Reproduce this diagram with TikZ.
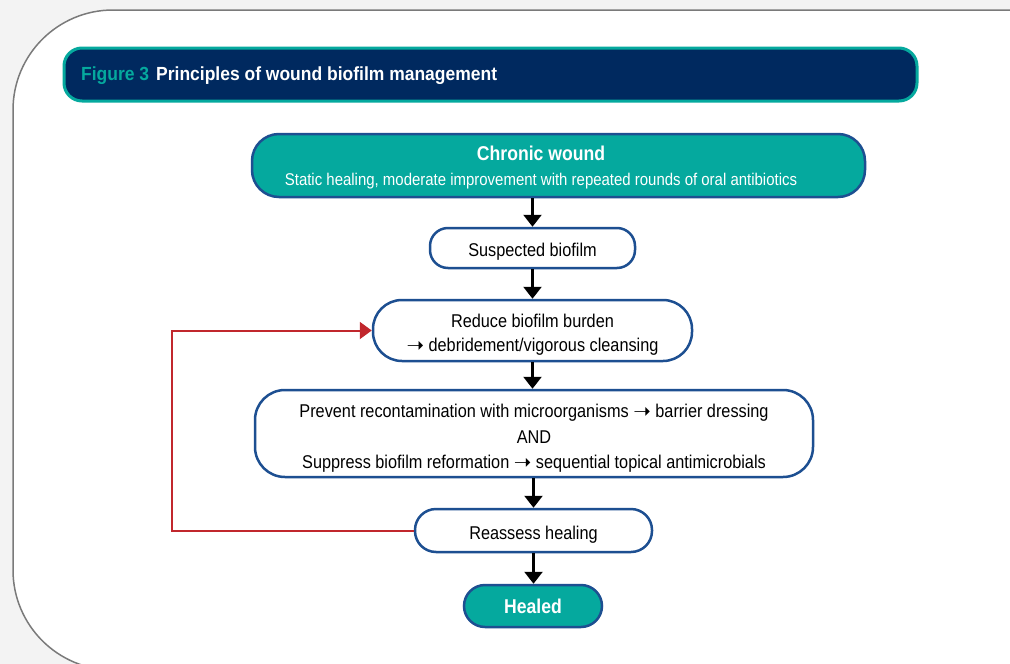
\documentclass[tikz,border=0pt]{standalone}
\usepackage{fontspec}
\setmainfont{Liberation Sans}
\newfontfamily\cf[FakeStretch=0.88]{Liberation Sans}
\newfontfamily\tf[FakeStretch=0.92]{Liberation Sans}
\newfontfamily\arrowfont{DejaVu Sans}
\newcommand{\rarr}{\raisebox{-0.5pt}{\arrowfont\fontsize{21}{21}\selectfont ➝}}
\newcommand{\textlines}[2][9pt]{\raisebox{0pt}[\dimexpr\height+#1\relax][\depth]{\begin{tabular}{@{}c@{}}#2\end{tabular}}}
\usetikzlibrary{arrows.meta}
\definecolor{bgray}{HTML}{F3F3F3}
\definecolor{pgray}{HTML}{7A7A7A}
\definecolor{navy}{HTML}{00295F}
\definecolor{teal}{HTML}{05A99E}
\definecolor{nblue}{HTML}{1D4F91}
\definecolor{fred}{HTML}{C1272D}
\tikzset{
  box/.style={draw=nblue, line width=2.5pt, fill=white, align=center, inner sep=0pt,
    font=\cf\fontsize{18.5}{25.5}\selectfont},
  lowtext/.style={execute at begin node={\rule{0pt}{21pt}}},
  tealbox/.style={box, fill=teal, text=white},
  flow/.style={line width=2.5pt, -{Triangle[width=18pt,length=12pt]}},
  back/.style={line width=2pt, draw=fred, -{Triangle[width=17pt,length=12pt]}, fred},
}
\begin{document}
\begin{tikzpicture}[x=1pt,y=-1pt]
\useasboundingbox (0,0) rectangle (1010,664);
\clip (0,0) rectangle (1010,664);
\fill[bgray] (0,0) rectangle (1010,664);
\draw[pgray, line width=1.5pt, fill=white, rounded corners=100pt] (13,10) rectangle (1200,670);
% title bar
\node[draw=teal, line width=3pt, fill=navy, rounded corners=18pt, minimum width=853pt, minimum height=53pt, inner sep=0pt] (title) at (490.5,74.5) {};
\node[anchor=west, inner sep=0pt, font=\tf\bfseries\fontsize{19}{22}\selectfont] (titletext) at (81,75.5)
  {\textcolor{teal}{Figure 3}\hspace{7pt}\textcolor{white}{Principles of wound biofilm management}};
% nodes
\node[tealbox, rounded corners=27pt, minimum width=613pt, minimum height=63pt] (cw) at (558.5,165.5) {};
\node[text=white, align=center, inner sep=0pt, font=\cf\fontsize{17}{25}\selectfont] (cwt) at (541,168)
  {{\bfseries\fontsize{20}{25}\selectfont Chronic wound}\\{\fontsize{17}{25}\selectfont Static healing, moderate improvement with repeated rounds of oral antibiotics}};
\node[box, lowtext, rounded corners=18pt, minimum width=205pt, minimum height=40pt] (sb) at (532.5,248) {Suspected biofilm};
\node[box, rounded corners=29pt, minimum width=319pt, minimum height=61pt, font=\cf\fontsize{18.5}{24}\selectfont] (rb) at (532.5,330.5)
  {\textlines{Reduce biofilm burden\\\rarr\ debridement/vigorous cleansing}};
\node[box, rounded corners=30pt, minimum width=558pt, minimum height=87pt] (pb) at (534,433.5)
  {\textlines{Prevent recontamination with microorganisms \rarr\ barrier dressing\\AND\\Suppress biofilm reformation \rarr\ sequential topical antimicrobials}};
\node[box, lowtext, rounded corners=21pt, minimum width=237pt, minimum height=43pt] (ra) at (533.5,530.5) {Reassess healing};
\node[tealbox, rounded corners=21pt, minimum width=138pt, minimum height=42pt, font=\cf\bfseries\fontsize{20}{25}\selectfont] (he) at (533,606) {Healed};
% connectors
\draw[flow] (sb.north |- cw.south) -- (sb.north);
\draw[flow] (sb.south) -- (rb.north);
\draw[flow] (rb.south) -- (rb.south |- pb.north);
\draw[flow] (ra.north |- pb.south) -- (ra.north);
\draw[flow] (ra.south) -- (ra.south |- he.north);
\draw[back] (ra.west) -- ++(-242,0) |- (rb.west);
\end{tikzpicture}
\end{document}
